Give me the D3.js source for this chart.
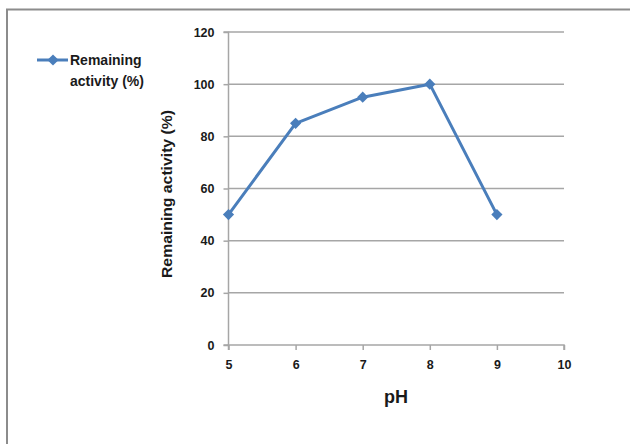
<!DOCTYPE html>
<html><head><meta charset="utf-8">
<script src="https://cdn.jsdelivr.net/npm/d3@7"></script>
<style>body{margin:0;background:#fff;}svg{display:block;}</style>
</head><body>
<script>
const phValues = [5, 6, 7, 8, 9];
const activity = [50, 85, 95, 100, 50];
const xTicks = [5, 6, 7, 8, 9, 10];
const yTicks = [0, 20, 40, 60, 80, 100, 120];
const seriesName = "Remaining activity (%)";

const W = 630, H = 444;
const svg = d3.select("body").append("svg").attr("width", W).attr("height", H);
const font = "'Liberation Sans', Arial, sans-serif";

// frame
svg.append("path").attr("d", `M7,${H} L7,9.5 L${W},9.5`).attr("fill","none").attr("stroke","#8c8c8c").attr("stroke-width",2);

const x = d3.scaleLinear().domain([5, 10]).range([228.5, 564]);
const y = d3.scaleLinear().domain([0, 120]).range([345, 32]);

// gridlines
svg.append("g").selectAll("line").data(yTicks.filter(d=>d>0)).join("line")
  .attr("x1", x(5)).attr("x2", x(10)).attr("y1", d=>y(d)).attr("y2", d=>y(d))
  .attr("stroke","#a6a6a6").attr("stroke-width",1.5);

// axes
const yAxis = d3.axisLeft(y).tickValues(yTicks).tickFormat(d3.format("d")).tickSize(5).tickPadding(9);
const gy = svg.append("g").attr("transform",`translate(${x(5)},0)`).call(yAxis);
const xAxis = d3.axisBottom(x).tickValues(xTicks).tickFormat(d3.format("d")).tickSize(5).tickPadding(10);
const gx = svg.append("g").attr("transform",`translate(0,${y(0)})`).call(xAxis);
[gx, gy].forEach(g=>{
  g.select(".domain").attr("stroke","#a6a6a6").attr("stroke-width",1.5);
  g.selectAll(".tick line").attr("stroke","#a6a6a6").attr("stroke-width",1.5);
  g.selectAll(".tick text").attr("font-family",font).attr("font-weight","bold").attr("font-size",12.5).attr("fill","#1a1a1a");
});
gx.select(".domain").attr("d", `M${x(5)},5V0H${x(10)}V5`);
gy.select(".domain").attr("d", `M-5,${y(120)}H0V${y(0)}H-5`);

// axis titles
svg.append("text").attr("x", 396).attr("y", 403).attr("text-anchor","middle")
  .attr("font-family",font).attr("font-weight","bold").attr("font-size",18).attr("fill","#1a1a1a").text("pH");
svg.append("text").attr("transform","translate(172,194) rotate(-90)").attr("text-anchor","middle")
  .attr("font-family",font).attr("font-weight","bold").attr("font-size",14)
  .attr("textLength",168).attr("lengthAdjust","spacingAndGlyphs").attr("fill","#1a1a1a").text(seriesName);

// series
const data = phValues.map((p,i)=>({p, v: activity[i]}));
const blue = "#4a7ebb";
svg.append("path").datum(data)
  .attr("d", d3.line().x(d=>x(d.p)).y(d=>y(d.v)))
  .attr("fill","none").attr("stroke",blue).attr("stroke-width",3).attr("stroke-linejoin","round");
const diamond = d3.symbol().type(d3.symbolDiamond2).size(80);
svg.append("g").selectAll("path").data(data).join("path")
  .attr("transform", d=>`translate(${x(d.p)},${y(d.v)})`)
  .attr("d", diamond).attr("fill", blue);

// legend
const lg = svg.append("g");
lg.append("line").attr("x1",37).attr("x2",68).attr("y1",60).attr("y2",60).attr("stroke",blue).attr("stroke-width",3);
lg.append("path").attr("transform","translate(53,60)").attr("d", diamond).attr("fill",blue);
lg.append("text").attr("x",70).attr("y",65).attr("font-family",font).attr("font-weight","bold").attr("font-size",14).attr("fill","#1a1a1a").text("Remaining");
lg.append("text").attr("x",70).attr("y",86).attr("font-family",font).attr("font-weight","bold").attr("font-size",14).attr("fill","#1a1a1a").text("activity (%)");
</script>
</body></html>
